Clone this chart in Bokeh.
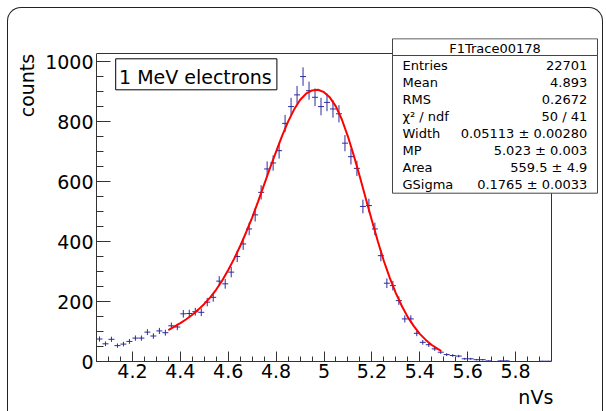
import numpy as np
from bokeh.plotting import figure
from bokeh.models import (Range1d, SingleIntervalTicker, CustomJSTickFormatter,
                          Label, BoxAnnotation, Title)
from bokeh.embed import file_html
from bokeh.resources import INLINE

# ---------------- data ----------------
bin_lo = 4.05
bin_width = 0.025
counts = [75, 59, 74, 53, 58, 67, 78, 78, 98, 85,
          102, 96, 119, 115, 159, 160, 166, 164, 198, 214,
          268, 259, 298, 350, 392, 442, 489, 564, 642, 662,
          703, 794, 850, 889, 950, 903, 881, 850, 864, 842,
          826, 728, 683, 644, 517, 520, 442, 353, 261, 253,
          203, 142, 142, 94, 64, 56, 42, 31, 23, 20,
          18, 9, 9, 6, 6, 2, 0, 2, 2, 0,
          0, 0, 0, 0, 1, 1]

fit_x = [4.350, 4.375, 4.400, 4.425, 4.450, 4.475, 4.500, 4.525, 4.550, 4.575,
         4.600, 4.625, 4.650, 4.675, 4.700, 4.725, 4.750, 4.775, 4.800, 4.825,
         4.850, 4.875, 4.900, 4.925, 4.950, 4.975, 5.000, 5.025, 5.050, 5.075,
         5.100, 5.125, 5.150, 5.175, 5.200, 5.225, 5.250, 5.275, 5.300, 5.325,
         5.350, 5.375, 5.400, 5.425, 5.450, 5.475, 5.490]
fit_y = [105, 116, 128, 141, 156, 173, 192, 214, 240, 270,
         305, 343, 385, 431, 480, 534, 590, 646, 700, 752,
         800, 840, 872, 893, 904, 906, 898, 880, 850, 806,
         750, 685, 615, 542, 470, 400, 335, 278, 228, 185,
         148, 118, 92, 72, 55, 42, 35]

x_min, x_max = 4.05, 5.95      # histogram axis extent
y_min, y_max = 0, 1027
x_tick_step = 0.2
y_tick_step = 200

label_text = "1 MeV electrons"
x_title = "nVs"
y_title = "counts"
stats_title = "F1Trace00178"
stats_names = ["Entries", "Mean", "RMS", "\u03c7\u00b2 / ndf", "Width", "MP", "Area", "GSigma"]
stats_values = ["22701", "4.893", "0.2672", "50 / 41", "0.05113 \u00b1 0.00280",
                "5.023 \u00b1 0.003", "559.5 \u00b1 4.9", "0.1765 \u00b1 0.0033"]

# ---------------- layout (pixels) ----------------
AXW, AXH = 455, 308          # histogram axes box in pixels
FW, FH = 502, 323            # bokeh frame (extended to hold the stats box)

# ---------------- derived ----------------
c = np.array(counts, dtype=float)
centers = bin_lo + bin_width * (np.arange(len(c)) + 0.5)
mask = c > 0
xc = centers[mask]
yc = c[mask]
err = np.sqrt(yc)

x_end = x_min + FW * (x_max - x_min) / AXW
y_end = y_min + FH * (y_max - y_min) / AXH

FONT = "DejaVu Sans"
AX = "#333333"
HIST = "#2b2b9e"

p = figure(frame_width=FW, frame_height=FH,
           x_range=Range1d(x_min, x_end), y_range=Range1d(y_min, y_end),
           output_backend="svg", toolbar_location=None,
           min_border_left=88, min_border_right=4,
           min_border_top=30, min_border_bottom=50)
p.styles = {"border": "1px solid #222222", "border-bottom": "none",
            "border-radius": "14px 14px 0 0",
            "margin-left": "7px", "margin-top": "7px"}
p.border_fill_color = None
p.background_fill_color = None
p.outline_line_color = None
p.xgrid.visible = False
p.ygrid.visible = False

p.xaxis.ticker = SingleIntervalTicker(interval=x_tick_step, num_minor_ticks=4)
p.yaxis.ticker = SingleIntervalTicker(interval=y_tick_step, num_minor_ticks=4)
p.xaxis.formatter = CustomJSTickFormatter(code="return String(Math.round(tick*10)/10);")
p.xaxis.bounds = (x_min, x_max)
p.yaxis.bounds = (y_min, y_max)
for ax in (p.xaxis[0], p.yaxis[0]):
    ax.axis_line_color = AX
    ax.major_tick_line_color = AX
    ax.minor_tick_line_color = AX
    ax.major_tick_out = 0
    ax.minor_tick_out = 0
    ax.major_label_text_font = FONT
    ax.major_label_text_font_size = "19px"
    ax.major_label_text_color = "black"
p.xaxis.major_label_standoff = 2
p.yaxis.major_label_standoff = 3
p.xaxis.major_tick_in = 10
p.xaxis.minor_tick_in = 5
p.yaxis.major_tick_in = 14
p.yaxis.minor_tick_in = 7

# axis titles (ROOT style: at the end of the axes)
p.add_layout(Title(text=x_title, align="right", vertical_align="bottom",
                   offset=45.2, standoff=0,
                   padding=dict(left=0, right=0, top=3, bottom=0),
                   text_font=FONT, text_font_size="19px",
                   text_font_style="normal", text_color="black"), "below")
p.add_layout(Title(text=y_title, align="right", vertical_align="bottom",
                   offset=15.3, standoff=10, text_font=FONT, text_font_size="19px",
                   text_font_style="normal", text_color="black"), "left")

# top and right edges of the histogram box
p.segment([x_min, x_max], [y_max, y_min], [x_max, x_max], [y_max, y_max],
          line_color=AX, line_width=1)

# histogram with error crosses
p.segment(xc - bin_width / 2, yc, xc + bin_width / 2, yc, line_color=HIST, line_width=1)
p.segment(xc, yc - err, xc, yc + err, line_color=HIST, line_width=1)

# fit curve
p.line(fit_x, fit_y, line_color="#ff0000", line_width=2)

def sbox(l, r, t, b, color):
    return BoxAnnotation(left=l, right=r, top=t, bottom=b,
                         left_units="screen", right_units="screen",
                         top_units="screen", bottom_units="screen",
                         fill_color="white", fill_alpha=1.0,
                         line_color=color, line_alpha=1.0, line_width=1)

# label box
p.add_layout(sbox(19.2, 180.4, 302.7, 271.7, "black"))
p.add_layout(Label(x=22.5, y=284.6, x_units="screen", y_units="screen", text=label_text,
                   text_font=FONT, text_font_size="19px", text_color="black",
                   text_baseline="middle"))

# stats box
p.add_layout(sbox(296, 501, 322.7, 168.3, "#444444"))
p.add_layout(sbox(296, 501, 322.7, 306, "#444444"))
p.add_layout(Label(x=398.5, y=312.7, x_units="screen", y_units="screen", text=stats_title,
                   text_align="center", text_baseline="middle",
                   text_font=FONT, text_font_size="13px", text_color="black"))
for i, (nm, vl) in enumerate(zip(stats_names, stats_values)):
    sy = 296 - 17.0 * i
    p.add_layout(Label(x=306, y=sy, x_units="screen", y_units="screen", text=nm,
                       text_align="left", text_baseline="middle",
                       text_font=FONT, text_font_size="13px", text_color="black"))
    p.add_layout(Label(x=490.8, y=sy, x_units="screen", y_units="screen", text=vl,
                       text_align="right", text_baseline="middle",
                       text_font=FONT, text_font_size="13px", text_color="black"))

open("out.html", "w").write(file_html(p, INLINE))
